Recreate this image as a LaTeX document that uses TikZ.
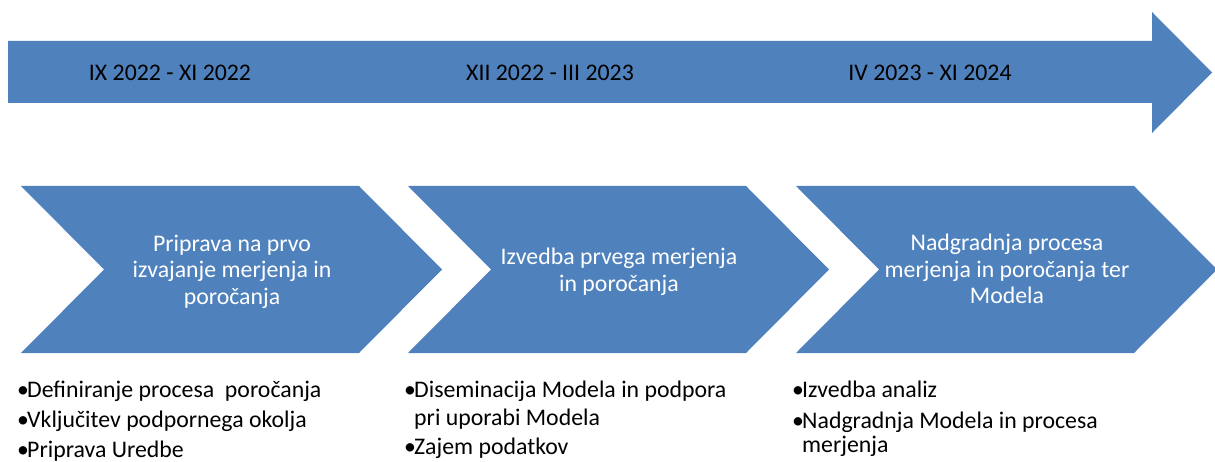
\documentclass[tikz,border=0pt]{standalone}
\usepackage{fontspec}
\setmainfont{Carlito}
\definecolor{officeblue}{HTML}{4F81BD}
\newcommand{\bul}{\llap{\makebox[10pt][l]{•}}}
\begin{document}
\begin{tikzpicture}[x=1pt,y=-1pt,
  datelab/.style={inner sep=0pt,anchor=center,text=black,font=\fontsize{23.8}{27}\selectfont},
  phaselab/.style={inner sep=0pt,anchor=center,align=center,text=white,font=\fontsize{23.8}{26.6}\selectfont},
  itemlab/.style={inner sep=0pt,anchor=base west,text=black,font=\fontsize{23.8}{26}\selectfont},
  chev/.style={fill=officeblue}]
\useasboundingbox (0,0) rectangle (1215,462);
% timeline arrow
\fill[officeblue] (8,41) -- (1152,41) -- (1152,12) -- (1212,72.5) -- (1152,133) -- (1152,103) -- (8,103) -- cycle;
\node[datelab] (d1) at (170,72.5) {IX 2022 - XI 2022};
\node[datelab] (d2) at (550,72.5) {XII 2022 - III 2023};
\node[datelab] (d3) at (930,72.5) {IV 2023 - XI 2024};
% chevrons
\foreach \L in {21,408,796}{
  \fill[chev] (\L,186) -- ({\L+338},186) -- ({\L+421},269.5) -- ({\L+338},353) -- (\L,353) -- ({\L+83},269.5) -- cycle;
}
\node[phaselab] (p1) at (232,271.5) {Priprava na prvo\\izvajanje merjenja in\\poročanja};
\node[phaselab] (p2) at (619,271.5) {Izvedba prvega merjenja\\in poročanja};
\node[phaselab] (p3) at (1007,269) {Nadgradnja procesa\\merjenja in poročanja ter\\Modela};
% bullet lists
\node[itemlab] (a1) at (27,397) {\bul Definiranje procesa~ poročanja};
\node[itemlab] (a2) at (27,427) {\bul Vključitev podpornega okolja};
\node[itemlab] (a3) at (27,457) {\bul Priprava Uredbe};
\node[itemlab] (b1) at (414,397) {\bul Diseminacija Modela in podpora};
\node[itemlab] (b1w) at (414,425) {pri uporabi Modela};
\node[itemlab] (b2) at (414,454) {\bul Zajem podatkov};
\node[itemlab] (c1) at (802,397) {\bul Izvedba analiz};
\node[itemlab] (c2) at (802,428) {\bul Nadgradnja Modela in procesa};
\node[itemlab] (c2w) at (802,452) {merjenja};
\end{tikzpicture}
\end{document}
